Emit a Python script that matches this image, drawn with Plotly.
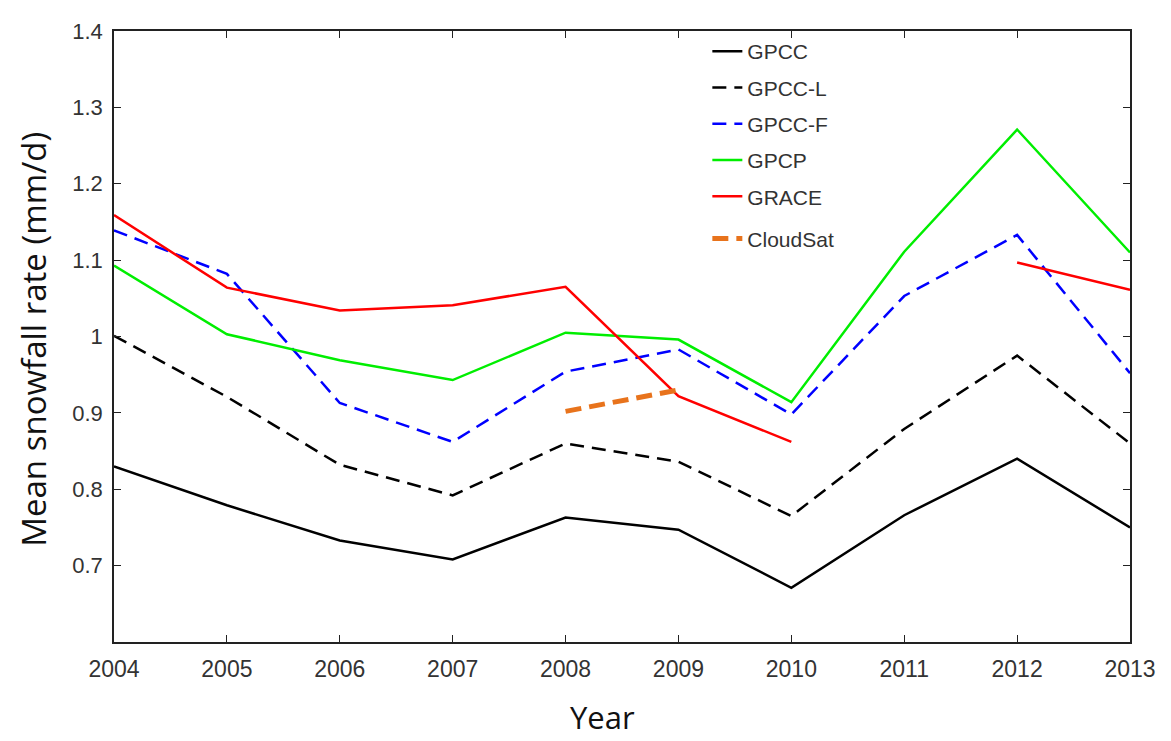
import plotly.graph_objects as go

years = [2004, 2005, 2006, 2007, 2008, 2009, 2010, 2011, 2012, 2013]
gpcc   = [0.830, 0.779, 0.733, 0.708, 0.763, 0.747, 0.671, 0.766, 0.840, 0.750]
gpcc_l = [1.001, 0.921, 0.832, 0.792, 0.860, 0.836, 0.765, 0.879, 0.975, 0.860]
gpcc_f = [1.139, 1.082, 0.913, 0.862, 0.954, 0.983, 0.898, 1.053, 1.133, 0.952]
gpcp   = [1.093, 1.003, 0.969, 0.943, 1.005, 0.996, 0.914, 1.111, 1.271, 1.110]
grace_a_years = [2004, 2005, 2006, 2007, 2008, 2009, 2010]
grace_a = [1.159, 1.064, 1.034, 1.041, 1.065, 0.922, 0.862]
grace_b_years = [2012, 2013]
grace_b = [1.097, 1.061]
cloudsat_years = [2008, 2009]
cloudsat = [0.902, 0.930]

ytick_vals = [0.7, 0.8, 0.9, 1.0, 1.1, 1.2, 1.3, 1.4]
ytick_text = ["0.7", "0.8", "0.9", "1", "1.1", "1.2", "1.3", "1.4"]

fig = go.Figure()
fig.add_trace(go.Scatter(x=years, y=gpcc, mode="lines", name="GPCC", legendgroup="g1",
                         line=dict(color="black", width=2.5)))
fig.add_trace(go.Scatter(x=years, y=gpcc_l, mode="lines", name="GPCC-L", legendgroup="g2",
                         line=dict(color="black", width=2.5, dash="14px,8px")))
fig.add_trace(go.Scatter(x=years, y=gpcc_f, mode="lines", name="GPCC-F", legendgroup="g3",
                         line=dict(color="#0000FF", width=2.5, dash="14px,8px")))
fig.add_trace(go.Scatter(x=years, y=gpcp, mode="lines", name="GPCP", legendgroup="g4",
                         line=dict(color="#00EE00", width=2.5)))
fig.add_trace(go.Scatter(x=grace_a_years, y=grace_a, mode="lines", name="GRACE", legendgroup="g5",
                         line=dict(color="#FF0000", width=2.5)))
fig.add_trace(go.Scatter(x=grace_b_years, y=grace_b, mode="lines", name="GRACE", legendgroup="g5",
                         showlegend=False, line=dict(color="#FF0000", width=2.5)))
fig.add_trace(go.Scatter(x=cloudsat_years, y=cloudsat, mode="lines", name="CloudSat",
                         legend="legend2",
                         line=dict(color="#E8731C", width=5, dash="16px,8px")))

axis_common = dict(showline=True, linecolor="#222", linewidth=1.5, mirror="ticks",
                   ticks="inside", ticklen=7, tickwidth=1.2, tickcolor="#222",
                   showgrid=False, zeroline=False)

fig.update_xaxes(range=[2004, 2013], tickvals=years, ticktext=[str(y) for y in years],
                 tickfont=dict(family="Liberation Sans, Arial", size=23, color="#333"),
                 ticklabelstandoff=6, **axis_common)
fig.update_yaxes(range=[0.6, 1.4], tickvals=ytick_vals, ticktext=ytick_text,
                 tickfont=dict(family="Liberation Sans, Arial", size=22, color="#333"),
                 ticklabelstandoff=5, **axis_common)

title_font = dict(family="Open Sans, Segoe UI", size=31, color="#111")
fig.add_annotation(text="Year", xref="paper", yref="paper", x=0.481, y=-0.122,
                   xanchor="center", yanchor="middle", showarrow=False, font=title_font)
fig.add_annotation(text="Mean snowfall rate (mm/d)", xref="paper", yref="paper",
                   x=-0.079, y=0.496, textangle=-90, xanchor="center", yanchor="middle",
                   showarrow=False, font=dict(family="Open Sans, Segoe UI", size=33, color="#111"))

legend_font = dict(family="Liberation Sans, Arial", size=21, color="#333")
fig.update_layout(
    width=1163, height=733,
    margin=dict(l=106, r=41, t=11, b=99),
    plot_bgcolor="white", paper_bgcolor="white",
    legend=dict(x=0.584, y=1.0, xanchor="left", yanchor="top",
                bgcolor="rgba(0,0,0,0)", tracegroupgap=6,
                font=legend_font, traceorder="grouped"),
    legend2=dict(x=0.584, y=0.66, xanchor="left", yanchor="middle",
                 bgcolor="rgba(0,0,0,0)", font=legend_font),
)

fig.write_html("out.html")
